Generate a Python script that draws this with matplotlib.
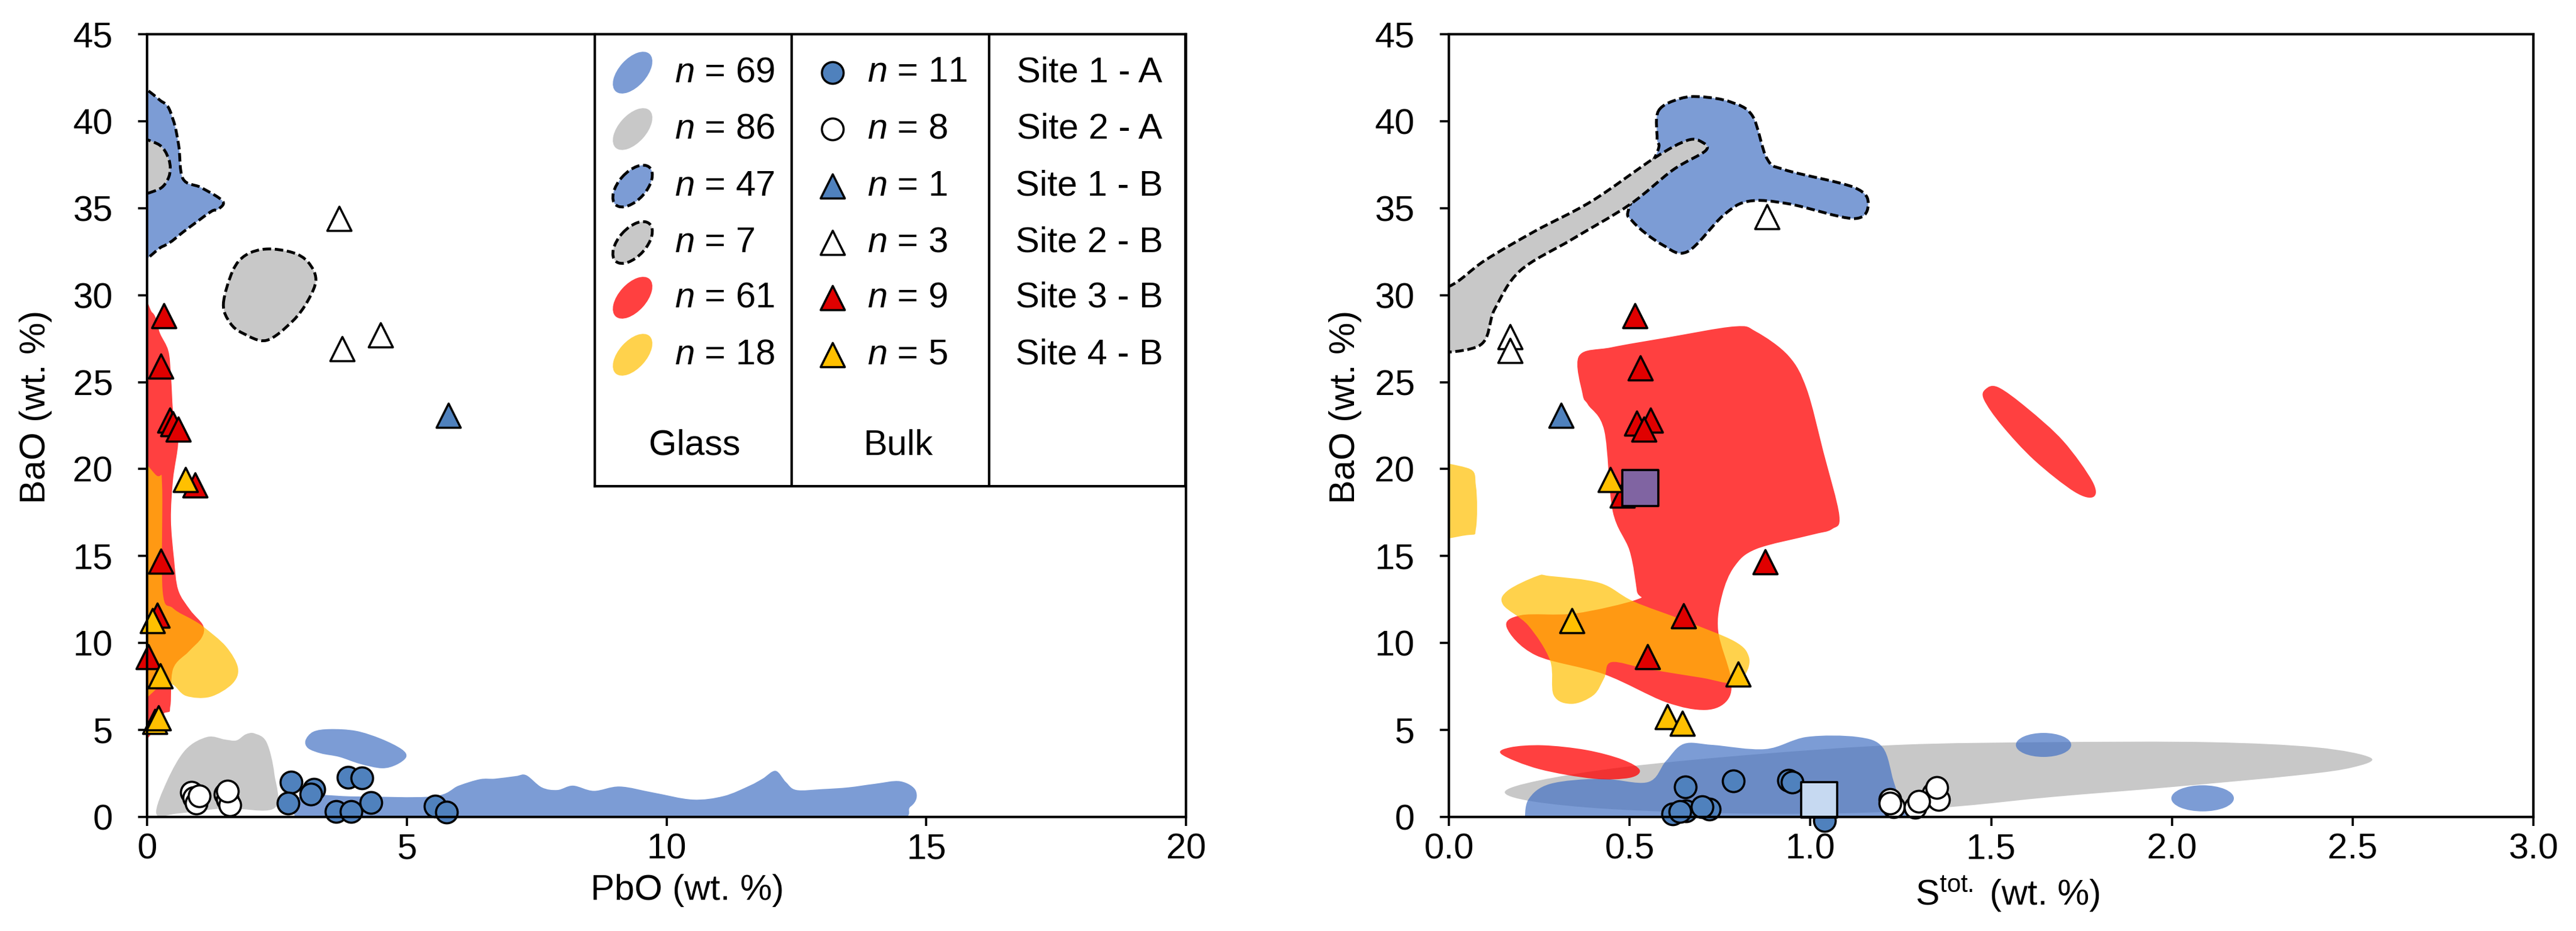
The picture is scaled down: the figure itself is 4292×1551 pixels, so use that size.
import numpy as np
import matplotlib
matplotlib.use("Agg")
import matplotlib.pyplot as plt
from matplotlib.path import Path
from matplotlib.patches import PathPatch, Ellipse
from matplotlib.colors import to_rgba

plt.rcParams['font.family'] = ['Liberation Sans', 'DejaVu Sans']
plt.rcParams['mathtext.fontset'] = 'custom'
plt.rcParams['mathtext.rm'] = 'Liberation Sans'
plt.rcParams['mathtext.it'] = 'Liberation Sans:italic'

# colours
BLUE_FIELD = to_rgba('#4472C4', 0.7)
GRAY_FIELD = '#C8C8C8'
RED_FIELD = to_rgba('#FF0000', 0.75)
YELLOW_FIELD = to_rgba('#FFC000', 0.7)
BLUE_PT = '#4F81BD'
RED_PT = '#E00000'
YELLOW_PT = '#FFC000'

# ---------------- left panel: PbO vs BaO ----------------
# bulk points
L_s1a_pbo = [2.77, 2.72, 3.21, 3.15, 3.87, 4.14, 3.64, 3.93, 4.31, 5.55, 5.76]
L_s1a_bao = [2.0, 0.8, 1.6, 1.3, 2.28, 2.26, 0.32, 0.32, 0.83, 0.62, 0.27]
L_s2a_pbo = [0.85, 0.9, 0.95, 1.0, 1.5, 1.55, 1.6, 1.55]
L_s2a_bao = [1.4, 1.1, 0.8, 1.2, 1.3, 1.0, 0.7, 1.5]
L_s1b_pbo = [5.8]
L_s1b_bao = [23.1]
L_s2b_pbo = [3.7, 3.75, 4.5]
L_s2b_bao = [34.4, 26.9, 27.7]
L_s3b_pbo = [0.32, 0.27, 0.44, 0.5, 0.6, 0.92, 0.27, 0.2, 0.02]
L_s3b_bao = [28.8, 25.9, 22.8, 22.6, 22.3, 19.1, 14.7, 11.6, 9.2]
L_s4b_pbo = [0.74, 0.1, 0.25, 0.15, 0.22]
L_s4b_bao = [19.4, 11.3, 8.1, 5.5, 5.7]

# glass fields (outline vertices)
L_gray_x = [0.18, 0.39, 0.74, 1.16, 1.5, 1.72, 1.9, 2.07, 2.3, 2.45, 2.45, 1.5, 0.6]
L_gray_y = [0.17, 2.1, 3.86, 4.6, 4.45, 4.4, 4.75, 4.8, 4.3, 2.5, 0.5, 0.5, 0.2]
L_blue_x = [2.95, 2.95, 4.0, 5.5, 6.0, 6.41, 6.7, 7.1, 7.3, 7.6, 7.9, 8.2, 8.6, 9.1, 9.75,
            10.5, 11.1, 11.6, 11.85, 12.1, 12.3, 12.5, 13.0, 13.5, 14.0, 14.5, 14.8, 14.7, 14.0, 9.0, 4.0]
L_blue_y = [-0.3, 1.18, 1.18, 1.18, 1.8, 2.17, 2.2, 2.35, 2.4, 1.7, 1.55, 1.8, 1.5, 1.75, 1.4,
            1.0, 1.2, 1.8, 2.2, 2.65, 2.0, 1.55, 1.6, 1.7, 1.9, 2.05, 1.5, 0.6, -0.3, -0.3, -0.3]
L_lobe_x = [3.05, 3.2, 3.52, 4.02, 4.5, 4.9, 4.99, 4.8, 4.52, 4.1, 3.7, 3.35, 3.1]
L_lobe_y = [4.4, 4.9, 5.05, 4.95, 4.5, 3.9, 3.45, 3.0, 2.8, 3.05, 3.45, 3.65, 3.95]
L_bdash_x = [-0.3, 0.3, 0.5, 0.61, 0.69, 1.03, 1.38, 1.47, 1.35, 1.23, 0.77, 0.3, -0.3]
L_bdash_y = [41.3, 41.1, 40.1, 38.6, 36.7, 36.2, 35.6, 35.25, 34.9, 34.8, 33.8, 32.8, 32.5]
L_gdash_x = [-0.3, 0.2, 0.42, 0.42, 0.2, -0.3]
L_gdash_y = [38.8, 38.7, 37.8, 36.8, 36.05, 36.0]
L_goval_x = [1.47, 1.65, 1.9, 2.3, 2.8, 3.1, 3.25, 3.1, 2.8, 2.3, 1.85, 1.6]
L_goval_y = [29.5, 31.4, 32.3, 32.65, 32.45, 31.9, 30.9, 29.7, 28.5, 27.4, 27.8, 28.4]
L_red_x = [-0.3, 0.1, 0.25, 0.41, 0.46, 0.51, 0.6, 0.5, 0.46, 0.52, 0.6, 0.83, 1.08, 1.05,
           0.8, 0.5, 0.45, 0.35, -0.3]
L_red_y = [29.0, 29.0, 27.8, 26.8, 25.4, 22.9, 21.6, 19.4, 17.1, 14.8, 13.05, 11.9, 11.0, 10.3,
           9.5, 8.5, 6.4, 6.0, 6.0]
L_yel_x = [-0.3, 0.2, 0.29, 0.3, 0.5, 0.9, 1.1, 1.52, 1.75, 1.64, 1.21, 0.75, 0.5, 0.3, -0.3]
L_yel_y = [19.6, 19.6, 19.0, 13.0, 12.0, 11.3, 10.9, 9.8, 8.57, 7.65, 6.9, 6.96, 7.6, 7.6, 7.6]

# ---------------- right panel: S tot vs BaO ----------------
R_s1a_s = [0.62, 0.655, 0.72, 0.654, 0.787, 0.94, 1.04, 1.02, 0.64, 0.70, 0.95]
R_s1a_bao = [0.17, 0.35, 0.46, 1.72, 2.07, 2.1, -0.2, 0.9, 0.3, 0.6, 2.0]
R_s2a_s = [1.22, 1.23, 1.29, 1.34, 1.355, 1.35, 1.22, 1.30]
R_s2a_bao = [1.0, 0.6, 0.55, 1.35, 1.0, 1.7, 0.8, 0.9]
R_s1b_s = [0.31]
R_s1b_bao = [23.1]
R_s2b_s = [0.17, 0.17, 0.88]
R_s2b_bao = [27.6, 26.8, 34.5]
R_s3b_s = [0.515, 0.53, 0.52, 0.558, 0.54, 0.48, 0.875, 0.649, 0.549]
R_s3b_bao = [28.8, 25.8, 22.65, 22.8, 22.3, 18.5, 14.65, 11.55, 9.2]
R_s4b_s = [0.447, 0.34, 0.80, 0.604, 0.645]
R_s4b_bao = [19.4, 11.27, 8.2, 5.75, 5.4]
R_sq_s = [0.53, 1.024]
R_sq_bao = [18.9, 0.98]
R_sq_col = ['#8064A2', '#C6D9F1']

R_gray_x = [0.155, 0.25, 0.485, 0.85, 1.25, 1.67, 2.1, 2.4, 2.55, 2.5, 2.35, 2.0, 1.67, 1.42,
            1.16, 0.8, 0.45, 0.23]
R_gray_y = [1.45, 2.1, 2.87, 3.6, 4.15, 4.3, 4.3, 4.0, 3.4, 2.85, 2.4, 1.72, 1.15, 0.63,
            0.25, 0.2, 0.45, 0.9]
R_blue_x = [0.21, 0.22, 0.28, 0.42, 0.55, 0.6, 0.65, 0.73, 0.875, 0.99, 1.13, 1.2, 1.23,
            1.25, 1.27, 1.1, 0.7, 0.21]
R_blue_y = [-0.3, 1.0, 1.9, 2.2, 2.0, 3.2, 4.2, 4.14, 3.9, 4.6, 4.6, 4.0, 2.07,
            0.8, -0.3, -0.3, -0.3, -0.3]
R_bsmall_xy = [(1.645, 4.14), (2.085, 1.07)]
R_bsmall_wh = [(0.153, 1.38), (0.173, 1.5)]
R_rsmall_x = [0.146, 0.17, 0.26, 0.38, 0.48, 0.528, 0.5, 0.4, 0.25]
R_rsmall_y = [3.6, 4.0, 4.12, 3.85, 3.3, 2.7, 2.25, 2.2, 2.75]
R_bdash_x = [0.58, 0.64, 0.70, 0.78, 0.84, 0.88, 0.93, 1.12, 1.16, 1.12, 0.94, 0.83, 0.76,
             0.66, 0.59, 0.51, 0.50, 0.576, 0.576]
R_bdash_y = [40.6, 41.3, 41.4, 41.1, 40.3, 37.85, 37.2, 36.2, 35.25, 34.4, 35.25, 35.4, 34.6,
             32.5, 32.9, 34.2, 35.1, 38.2, 39.0]
R_gdash_x = [-0.1, 0.0, 0.10, 0.24, 0.395, 0.57, 0.66, 0.70, 0.71, 0.62, 0.50, 0.34, 0.197,
             0.127, 0.08, -0.1]
R_gdash_y = [30.3, 30.5, 32.0, 33.7, 35.4, 37.9, 38.9, 38.8, 38.3, 37.2, 35.2, 33.2, 31.4,
             29.2, 27.05, 27.05]
R_red_x = [0.37, 0.36, 0.45, 0.6, 0.79, 0.85, 0.94, 0.99, 1.036, 1.08, 1.06, 1.0, 0.85, 0.79,
           0.756, 0.745, 0.78, 0.77, 0.71, 0.6, 0.43, 0.24, 0.16, 0.2, 0.35, 0.52, 0.52, 0.5,
           0.453, 0.43, 0.385]
R_red_y = [24.3, 26.5, 27.0, 27.55, 28.2, 27.9, 26.5, 24.6, 21.0, 17.35, 16.55, 16.2, 15.4,
           14.4, 12.76, 10.7, 8.0, 6.7, 6.15, 6.6, 8.2, 9.3, 10.9, 11.6, 11.7, 12.5, 13.0, 15.3,
           17.6, 22.2, 23.7]
R_rell_x = [1.485, 1.52, 1.6, 1.7, 1.78, 1.783, 1.73, 1.62, 1.53, 1.48]
R_rell_y = [24.6, 24.7, 23.5, 21.6, 19.3, 18.4, 18.7, 20.5, 22.5, 24.0]
R_ysmall_x = [-0.1, 0.05, 0.075, 0.075, 0.05, -0.1]
R_ysmall_y = [20.07, 20.07, 19.0, 16.6, 16.2, 16.2]
R_yel_x = [0.162, 0.244, 0.28, 0.418, 0.51, 0.65, 0.79, 0.83, 0.82, 0.78, 0.7, 0.55, 0.45,
           0.43, 0.40, 0.34, 0.29, 0.28, 0.22, 0.15]
R_yel_y = [13.0, 13.85, 13.85, 13.45, 12.4, 11.3, 10.1, 9.2, 8.2, 7.7, 8.0, 8.5, 8.9, 8.0,
           7.0, 6.5, 7.0, 9.0, 11.0, 12.2]

# legend content
glass_n = ['69', '86', '47', '7', '61', '18']
bulk_n = ['11', '8', '1', '3', '9', '5']
site_names = ['Site 1 - A', 'Site 2 - A', 'Site 1 - B', 'Site 2 - B', 'Site 3 - B', 'Site 4 - B']


def blob(ax, xs, ys, z, **kw):
    # closed smooth outline through the vertices (cubic Bezier, Catmull-Rom tangents)
    p = np.column_stack([xs, ys])
    n = len(p)
    verts = [p[0]]
    codes = [Path.MOVETO]
    for i in range(n):
        p0, p1, p2, p3 = p[i - 1], p[i], p[(i + 1) % n], p[(i + 2) % n]
        verts += [p1 + (p2 - p0) / 6, p2 - (p3 - p1) / 6, p2]
        codes += [Path.CURVE4] * 3
    ax.add_patch(PathPatch(Path(verts, codes), zorder=z, **kw))


DASH = dict(edgecolor='black', linestyle=(0, (3.0, 1.3)), linewidth=3.4)
NOEDGE = dict(edgecolor='none', linewidth=0)
CIRC = 26
TRI = 29


def pts(ax, x, y, marker, color, size):
    ax.scatter(x, y, s=size ** 2, marker=marker, c=color, edgecolors='black',
               linewidths=2.6, zorder=6, clip_on=False)


W, H = 4292, 1551
fig = plt.figure(figsize=(W / 100, H / 100), dpi=100)
ax1 = fig.add_axes([245 / W, 1 - 1361 / H, 1731 / W, 1304 / H])
ax2 = fig.add_axes([2414 / W, 1 - 1361 / H, 1807 / W, 1304 / H])

# left panel fields
blob(ax1, L_gray_x, L_gray_y, 1, facecolor=GRAY_FIELD, **NOEDGE)
blob(ax1, L_blue_x, L_blue_y, 1.1, facecolor=BLUE_FIELD, **NOEDGE)
blob(ax1, L_lobe_x, L_lobe_y, 1.1, facecolor=BLUE_FIELD, **NOEDGE)
blob(ax1, L_bdash_x, L_bdash_y, 1.2, facecolor=BLUE_FIELD, **DASH)
blob(ax1, L_gdash_x, L_gdash_y, 1.3, facecolor=GRAY_FIELD, **DASH)
blob(ax1, L_goval_x, L_goval_y, 1.3, facecolor=GRAY_FIELD, **DASH)
blob(ax1, L_red_x, L_red_y, 1.4, facecolor=RED_FIELD, **NOEDGE)
blob(ax1, L_yel_x, L_yel_y, 1.5, facecolor=YELLOW_FIELD, **NOEDGE)

pts(ax1, L_s1a_pbo, L_s1a_bao, 'o', BLUE_PT, CIRC)
pts(ax1, L_s2a_pbo, L_s2a_bao, 'o', 'white', CIRC)
pts(ax1, L_s2b_pbo, L_s2b_bao, '^', 'white', TRI)
pts(ax1, L_s1b_pbo, L_s1b_bao, '^', BLUE_PT, TRI)
pts(ax1, L_s3b_pbo, L_s3b_bao, '^', RED_PT, TRI)
pts(ax1, L_s4b_pbo, L_s4b_bao, '^', YELLOW_PT, TRI)

# right panel fields
blob(ax2, R_gray_x, R_gray_y, 1, facecolor=GRAY_FIELD, **NOEDGE)
blob(ax2, R_blue_x, R_blue_y, 1.1, facecolor=BLUE_FIELD, **NOEDGE)
for (cx, cy), (w, h) in zip(R_bsmall_xy, R_bsmall_wh):
    ax2.add_patch(Ellipse((cx, cy), w, h, facecolor=BLUE_FIELD, edgecolor='none', zorder=1.1))
blob(ax2, R_rsmall_x, R_rsmall_y, 1.15, facecolor=RED_FIELD, **NOEDGE)
blob(ax2, R_bdash_x, R_bdash_y, 1.2, facecolor=BLUE_FIELD, **DASH)
blob(ax2, R_gdash_x, R_gdash_y, 1.3, facecolor=GRAY_FIELD, **DASH)
blob(ax2, R_red_x, R_red_y, 1.4, facecolor=RED_FIELD, **NOEDGE)
blob(ax2, R_rell_x, R_rell_y, 1.4, facecolor=RED_FIELD, **NOEDGE)
blob(ax2, R_yel_x, R_yel_y, 1.5, facecolor=YELLOW_FIELD, **NOEDGE)
blob(ax2, R_ysmall_x, R_ysmall_y, 1.5, facecolor=YELLOW_FIELD, **NOEDGE)

pts(ax2, R_s1a_s, R_s1a_bao, 'o', BLUE_PT, CIRC)
pts(ax2, R_s2a_s, R_s2a_bao, 'o', 'white', CIRC)
pts(ax2, R_s2b_s, R_s2b_bao, '^', 'white', TRI)
pts(ax2, R_s1b_s, R_s1b_bao, '^', BLUE_PT, TRI)
pts(ax2, R_s3b_s, R_s3b_bao, '^', RED_PT, TRI)
pts(ax2, R_s4b_s, R_s4b_bao, '^', YELLOW_PT, TRI)
ax2.scatter(R_sq_s, R_sq_bao, s=43 ** 2, marker='s', c=R_sq_col, edgecolors='black',
            linewidths=2.6, zorder=7, clip_on=False)

# axes styling
for ax in (ax1, ax2):
    ax.set_ylim(0, 45)
    ax.set_yticks(np.arange(0, 46, 5))
    for sp in ax.spines.values():
        sp.set_linewidth(3)
        sp.set_zorder(8)
    ax.tick_params(direction='out', length=11, width=2.6, labelsize=43)
    ax.tick_params(axis='y', pad=30)
    ax.tick_params(axis='x', pad=8)
    ax.set_ylabel('BaO (wt. %)', fontsize=43)

ax1.set_xlim(0, 20)
ax1.set_xticks([0, 5, 10, 15, 20])
ax1.set_xlabel('PbO (wt. %)', fontsize=43)
ax1.yaxis.set_label_coords(-0.091, 0.524)
ax1.xaxis.set_label_coords(0.52, -0.073)

ax2.set_xlim(0, 3)
ax2.set_xticks(np.arange(0, 3.01, 0.5))
ax2.set_xticklabels([f'{v:.1f}' for v in np.arange(0, 3.01, 0.5)])
ax2.set_xlabel(r'S$^{\mathrm{tot.}}$ (wt. %)', fontsize=43)
ax2.yaxis.set_label_coords(-0.08, 0.524)
ax2.xaxis.set_label_coords(0.515, -0.073)

# legend table inside the left panel (pixel units, y downwards)
leg = fig.add_axes([991 / W, 1 - 810 / H, (1975 - 991) / W, (810 - 57) / H])
leg.set_xlim(0, 984)
leg.set_ylim(753, 0)
leg.set_xticks([])
leg.set_yticks([])
for sp in leg.spines.values():
    sp.set_linewidth(3)
leg.axvline(328, color='black', lw=3)
leg.axvline(657, color='black', lw=3)

row_y = [64, 158, 253, 347, 439, 534]
glass_face = [BLUE_FIELD, GRAY_FIELD, BLUE_FIELD, GRAY_FIELD, RED_FIELD, YELLOW_FIELD]
glass_dash = [False, False, True, True, False, False]
bulk_mark = ['o', 'o', '^', '^', '^', '^']
bulk_col = [BLUE_PT, 'white', BLUE_PT, 'white', RED_PT, YELLOW_PT]
bulk_size = [CIRC, CIRC, TRI, TRI, TRI, TRI]

for i, yy in enumerate(row_y):
    if glass_dash[i]:
        e = Ellipse((63, yy), 84, 46, angle=-48, facecolor=glass_face[i], **DASH)
    else:
        e = Ellipse((63, yy), 84, 46, angle=-48, facecolor=glass_face[i], edgecolor='none')
    leg.add_patch(e)
    leg.text(133, yy, f'$n$ = {glass_n[i]}', fontsize=43, ha='left', va='center')
    leg.scatter([396], [yy], s=bulk_size[i] ** 2, marker=bulk_mark[i], c=bulk_col[i],
                edgecolors='black', linewidths=2.6, zorder=3)
    leg.text(454, yy, f'$n$ = {bulk_n[i]}', fontsize=43, ha='left', va='center')
    leg.text(824, yy, site_names[i], fontsize=43, ha='center', va='center')

leg.text(166, 685, 'Glass', fontsize=43, ha='center', va='center')
leg.text(505, 685, 'Bulk', fontsize=43, ha='center', va='center')

fig.savefig('out.png', dpi=100)
